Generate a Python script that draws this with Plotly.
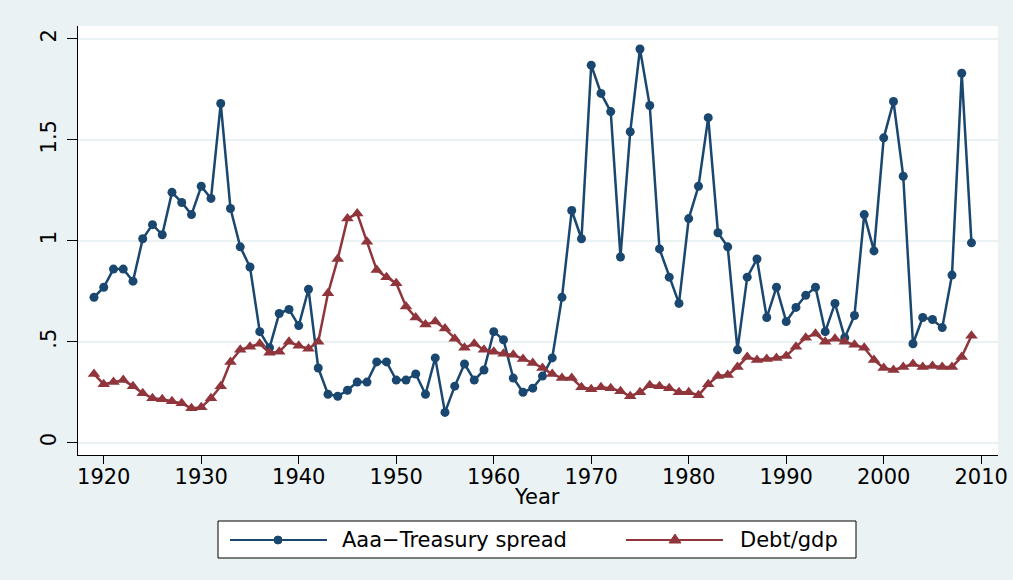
import plotly.graph_objects as go

# Annual data, 1919-2009
years = list(range(1919, 2010))

spread = [
    0.72, 0.77, 0.86, 0.86, 0.80, 1.01, 1.08, 1.03, 1.24, 1.19,
    1.13, 1.27, 1.21, 1.68, 1.16, 0.97, 0.87, 0.55, 0.47, 0.64,
    0.66, 0.58, 0.76, 0.37, 0.24, 0.23, 0.26, 0.30, 0.30, 0.40,
    0.40, 0.31, 0.31, 0.34, 0.24, 0.42, 0.15, 0.28, 0.39, 0.31,
    0.36, 0.55, 0.51, 0.32, 0.25, 0.27, 0.33, 0.42, 0.72, 1.15,
    1.01, 1.87, 1.73, 1.64, 0.92, 1.54, 1.95, 1.67, 0.96, 0.82,
    0.69, 1.11, 1.27, 1.61, 1.04, 0.97, 0.46, 0.82, 0.91, 0.62,
    0.77, 0.60, 0.67, 0.73, 0.77, 0.55, 0.69, 0.52, 0.63, 1.13,
    0.95, 1.51, 1.69, 1.32, 0.49, 0.62, 0.61, 0.57, 0.83, 1.83,
    0.99,
]

debt_gdp = [
    0.34, 0.29, 0.30, 0.31, 0.28, 0.245, 0.22, 0.215, 0.205, 0.195,
    0.17, 0.175, 0.22, 0.28, 0.40, 0.46, 0.475, 0.49, 0.445, 0.45,
    0.50, 0.48, 0.465, 0.50, 0.74, 0.91, 1.11, 1.135, 0.995, 0.855,
    0.82, 0.79, 0.675, 0.62, 0.585, 0.60, 0.565, 0.515, 0.47, 0.49,
    0.46, 0.45, 0.44, 0.435, 0.415, 0.395, 0.37, 0.34, 0.32, 0.32,
    0.275, 0.265, 0.275, 0.27, 0.255, 0.23, 0.25, 0.285, 0.28, 0.27,
    0.25, 0.25, 0.235, 0.29, 0.33, 0.335, 0.375, 0.425, 0.41, 0.415,
    0.42, 0.43, 0.475, 0.52, 0.54, 0.50, 0.515, 0.50, 0.485, 0.47,
    0.41, 0.37, 0.36, 0.375, 0.39, 0.375, 0.38, 0.375, 0.375, 0.425,
    0.53,
]

x_ticks = [1920, 1930, 1940, 1950, 1960, 1970, 1980, 1990, 2000, 2010]
y_ticks = [0, 0.5, 1, 1.5, 2]
y_labels = ["0", ".5", "1", "1.5", "2"]

NAVY = "#1A476F"
MAROON = "#90353B"
BG = "#EAF2F3"
FONT = "DejaVu Sans"
FS = 21

fig = go.Figure()

fig.add_trace(
    go.Scatter(
        x=years,
        y=spread,
        mode="lines+markers",
        line=dict(color=NAVY, width=2.5),
        marker=dict(symbol="circle", size=9, color=NAVY),
        name="Aaa\u2212Treasury spread",
        showlegend=False,
    )
)
fig.add_trace(
    go.Scatter(
        x=years,
        y=debt_gdp,
        mode="lines+markers",
        line=dict(color=MAROON, width=2.5),
        marker=dict(symbol="triangle-up", size=11, color=MAROON),
        name="Debt/gdp",
        showlegend=False,
    )
)

# Legend box drawn by hand (Stata style: long key line with marker in middle)
W, H = 920, 429  # plot area in px


def px(xp):
    return (xp - 78) / W


def py(yp):
    return (455 - yp) / H


shapes = [
    dict(type="rect", xref="paper", yref="paper",
         x0=px(218), x1=px(856), y0=py(558), y1=py(521),
         line=dict(color="black", width=1), fillcolor="white", layer="above"),
    dict(type="line", xref="paper", yref="paper",
         x0=px(230), x1=px(327), y0=py(540), y1=py(540),
         line=dict(color=NAVY, width=2)),
    dict(type="circle", xref="paper", yref="paper",
         xsizemode="pixel", ysizemode="pixel",
         xanchor=px(278), yanchor=py(540), x0=-4, x1=4, y0=-4, y1=4,
         fillcolor=NAVY, line=dict(color=NAVY, width=1)),
    dict(type="line", xref="paper", yref="paper",
         x0=px(626), x1=px(723), y0=py(540), y1=py(540),
         line=dict(color=MAROON, width=2)),
    dict(type="path", xref="paper", yref="paper",
         xsizemode="pixel", ysizemode="pixel",
         xanchor=px(675), yanchor=py(540),
         path="M -6,-3 L 6,-3 L 0,6 Z",
         fillcolor=MAROON, line=dict(color=MAROON, width=1)),
]

annotations = [
    dict(text="Aaa\u2212Treasury spread", xref="paper", yref="paper",
         x=px(340), y=py(540), xanchor="left", yanchor="middle",
         showarrow=False, font=dict(family=FONT, size=FS, color="black")),
    dict(text="Debt/gdp", xref="paper", yref="paper",
         x=px(738), y=py(540), xanchor="left", yanchor="middle",
         showarrow=False, font=dict(family=FONT, size=FS, color="black")),
    dict(text="Year", xref="paper", yref="paper",
         x=px(537), y=py(497), xanchor="center", yanchor="middle",
         showarrow=False, font=dict(family=FONT, size=FS, color="black")),
]

fig.update_layout(
    width=1013,
    height=580,
    autosize=False,
    margin=dict(l=78, r=15, t=26, b=125, pad=0),
    paper_bgcolor=BG,
    plot_bgcolor="white",
    font=dict(family=FONT, size=FS, color="black"),
    shapes=shapes,
    annotations=annotations,
    xaxis=dict(
        range=[1917.36, 2011.72],
        tickvals=x_ticks,
        ticks="outside",
        ticklen=8,
        tickcolor="black",
        ticklabelstandoff=-5,
        showgrid=False,
        zeroline=False,
        showline=True,
        linecolor="black",
        linewidth=1,
        automargin=False,
        tickfont=dict(family=FONT, size=FS, color="black"),
    ),
    yaxis=dict(
        range=[-0.061, 2.064],
        tickvals=y_ticks,
        ticktext=y_labels,
        tickangle=-90,
        ticks="outside",
        ticklen=10,
        tickcolor="black",
        ticklabelstandoff=3,
        showgrid=True,
        gridcolor=BG,
        gridwidth=1.5,
        zeroline=False,
        showline=True,
        linecolor="black",
        linewidth=1,
        automargin=False,
        tickfont=dict(family=FONT, size=FS, color="black"),
    ),
)

fig.write_html(
    "out.html",
    config={"displayModeBar": False, "responsive": False},
    post_script=(
        "document.body.style.margin='0';"
        "document.body.style.overflow='hidden';"
        "Plotly.relayout('{plot_id}', {width: 1013, height: 580});"
    ),
)
